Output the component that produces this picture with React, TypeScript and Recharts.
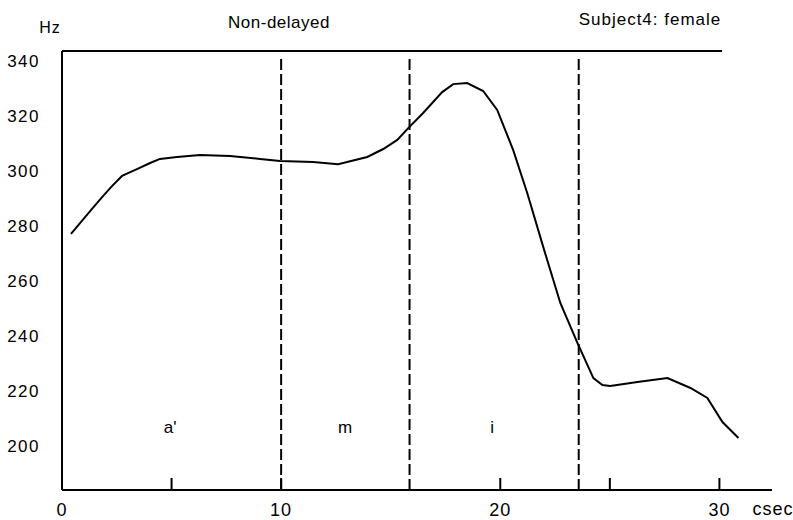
import React from 'react';
import { LineChart, Line, XAxis, YAxis, ReferenceLine, ReferenceDot } from 'recharts';

// F0 contour, subject 4 (female), non-delayed
const timeCsec = [0.41, 1.37, 1.83, 2.28, 2.74, 3.42, 4.02, 4.47, 5.25, 6.3, 7.67, 9.04, 9.95, 11.46, 12.6, 13.93, 14.66, 15.3, 15.8, 16.48, 17.35, 17.85, 18.49, 19.22, 19.86, 20.59, 21.23, 21.96, 22.74, 23.52, 24.25, 24.66, 25.02, 26.26, 27.63, 28.68, 29.45, 30.14, 30.87];
const f0Hz = [277.1, 286.2, 290.5, 294.5, 298.2, 300.7, 302.9, 304.4, 305.1, 305.8, 305.5, 304.4, 303.6, 303.3, 302.5, 305.1, 308.0, 311.3, 315.6, 321.1, 328.7, 331.6, 332.0, 329.1, 322.2, 307.6, 292.0, 272.4, 252.0, 237.5, 224.7, 222.2, 221.8, 223.3, 224.7, 221.1, 217.5, 208.7, 202.9];

const segmentBoundaries = [10, 15.86, 23.58];
const segmentLabels = ["a'", 'm', 'i'];
const segmentLabelX = [4.93, 12.92, 19.63];
const segmentLabelY = 206.9;

const yTicks = [200, 220, 240, 260, 280, 300, 320, 340];
const xTicks = [0, 5, 10, 20, 25, 30];
const xTickLabels = [0, 10, 20, 30];
const xTickMarks = [5, 10, 20, 25, 30];

const X_MAX = 32.4;
const Y_MIN = 184;
const Y_MAX = 343.64;
const TOP_LINE_END = 30.12;
const DASH_TOP = 341.1;

const data = timeCsec.map((t, i) => ({ t, hz: f0Hz[i] }));

const FONT = '"Liberation Sans", Arial, Helvetica, sans-serif';

const XTick = (props: any) => {
  const { x, y, payload } = props;
  const v = payload.value;
  return (
    <g>
      {xTickMarks.includes(v) && (
        <line x1={x} y1={y} x2={x} y2={y - 12} stroke="#000" strokeWidth={2} />
      )}
      {xTickLabels.includes(v) && (
        <text
          x={x}
          y={y + 19.5}
          dy="0.355em"
          textAnchor="middle"
          fontFamily={FONT}
          fontSize={18}
          letterSpacing={1}
          fill="#000"
        >
          {v}
        </text>
      )}
    </g>
  );
};

export default function App() {
  return (
    <div style={{ position: 'absolute', left: 0, top: 0, width: 793, height: 520, background: '#fff' }}>
      <LineChart
        width={793}
        height={520}
        data={data}
        margin={{ top: 51, right: 21, bottom: 0, left: 0 }}
      >
        <XAxis
          dataKey="t"
          type="number"
          domain={[0, X_MAX]}
          ticks={xTicks}
          allowDataOverflow
          height={30}
          axisLine={{ stroke: '#000', strokeWidth: 2 }}
          tickLine={false}
          tickSize={0}
          tickMargin={0}
          tick={<XTick />}
          interval={0}
        />
        <YAxis
          type="number"
          domain={[Y_MIN, Y_MAX]}
          ticks={yTicks}
          allowDataOverflow
          width={62}
          axisLine={{ stroke: '#000', strokeWidth: 2 }}
          tickLine={false}
          tickSize={0}
          tickMargin={22}
          interval={0}
          tick={{ fill: '#000', fontSize: 17, fontFamily: FONT, letterSpacing: 1.5 }}
        />
        <ReferenceLine
          segment={[{ x: 0, y: Y_MAX }, { x: TOP_LINE_END, y: Y_MAX }]}
          stroke="#000"
          strokeWidth={2}
          ifOverflow="visible"
        />
        {segmentBoundaries.map((b) => (
          <ReferenceLine
            key={b}
            segment={[{ x: b, y: Y_MIN }, { x: b, y: DASH_TOP }]}
            stroke="#000"
            strokeWidth={2}
            strokeDasharray="11 4"
          />
        ))}
        {segmentLabels.map((s, i) => (
          <ReferenceDot
            key={s}
            x={segmentLabelX[i]}
            y={segmentLabelY}
            r={0}
            fill="none"
            stroke="none"
            label={{ value: s, position: 'center', fill: '#000', fontSize: 17, fontFamily: FONT }}
          />
        ))}
        <Line
          type="linear"
          dataKey="hz"
          stroke="#000"
          strokeWidth={2}
          dot={false}
          activeDot={false}
          isAnimationActive={false}
        />
      </LineChart>
      <svg
        width={793}
        height={520}
        style={{ position: 'absolute', left: 0, top: 0, pointerEvents: 'none' }}
      >
        <text x={50} y={33} textAnchor="middle" fontFamily={FONT} fontSize={16} letterSpacing={1} fill="#000">Hz</text>
        <text x={279} y={28} textAnchor="middle" fontFamily={FONT} fontSize={17} letterSpacing={0.5} fill="#000">Non-delayed</text>
        <text x={650} y={25} textAnchor="middle" fontFamily={FONT} fontSize={17} letterSpacing={1} fill="#000">Subject4: female</text>
        <text x={773} y={515} textAnchor="middle" fontFamily={FONT} fontSize={18} letterSpacing={1} fill="#000">csec</text>
      </svg>
    </div>
  );
}
